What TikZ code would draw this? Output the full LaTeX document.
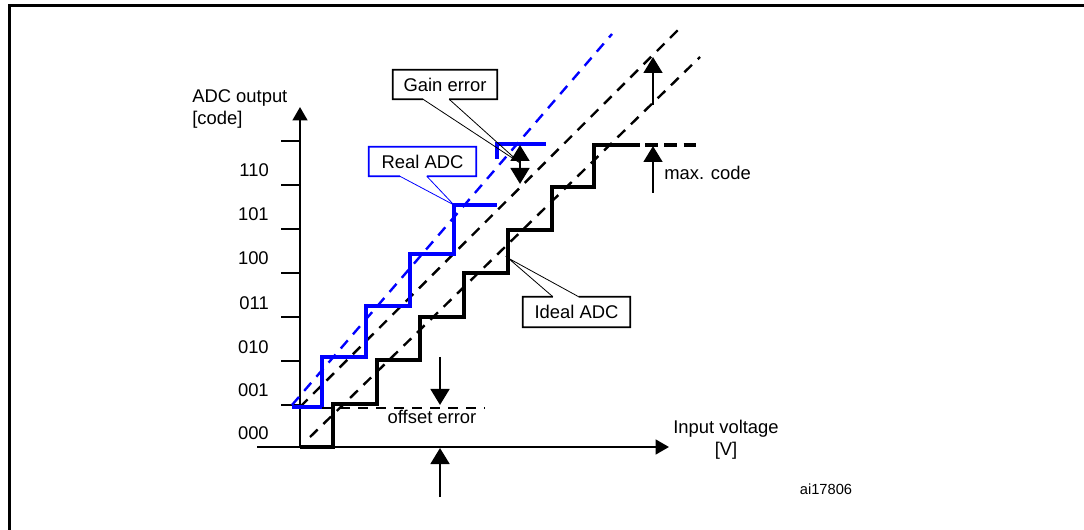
\documentclass[tikz,border=0pt]{standalone}
\usepackage{fontspec}
\setmainfont{Liberation Sans}
\usetikzlibrary{positioning,calc,arrows.meta}

\tikzset{
  stair/.style={line width=2.6pt},
  realstair/.style={stair,blue},
  guide/.style={line width=1.8pt,dash pattern=on 8pt off 6pt},
  ax/.style={line width=1.8pt,-{Triangle[length=10pt,width=11pt]}},
  err/.style={line width=2.1pt,-{Triangle[length=12pt,width=14pt]}},
  lbl/.style={font=\fontsize{13.8}{16.5}\selectfont,inner sep=0pt},
  boxline/.style={line width=1.3pt},
  pointer/.style={line width=0.6pt},
}

\begin{document}
\begin{tikzpicture}[x=0.75pt,y=-0.75pt]
\useasboundingbox (0,0) rectangle (1084,530);
% frame
\draw[line width=2.2pt] (1084,5.5) -- (9.5,5.5) -- (9.5,530);

% axes
\coordinate (o) at (300,447);
\coordinate (xl) at (257,447);
\coordinate (xe) at (669,447);
\coordinate (ye) at (300,107);
\draw[ax] (xl) -- (xe);
\draw[ax] (o) -- (ye);
\foreach \y in {141,185,...,405}
  \draw[line width=1.8pt] (281,\y) -- (300,\y);
\foreach \c/\y in {000/433,001/390,010/347,011/303,100/258,101/214,110/170}
  \node[lbl,anchor=east] (c\c) at (269,\y) {\c};
\node[lbl,align=left,anchor=west] (yl) at (192,109) {ADC output\\{}[code]};
\node[lbl,align=center] (xlab) at (726,440) {Input voltage\\{}[V]};
\node[font=\fontsize{11}{13}\selectfont,inner sep=0pt] (fig) at (826,489) {ai17806};

% transfer lines
\draw[guide,blue] (292,405) -- (612,34);
\draw[guide] (300,407) -- (678,30);
\draw[guide] (310,437) -- (700,57);

% ideal staircase
\draw[stair] (o) -- (333,447) -- (333,404) -- (377,404) -- (377,360) -- (420,360)
  -- (420,317) -- (464,317) -- (464,273) -- (508,273) -- (508,230) -- (552,230)
  -- (552,187) -- (594,187) -- (594,145) -- (640,145);
\draw[stair,dash pattern=on 9.5pt off 5pt] (645,145) -- (697,145);

% real staircase
\draw[realstair] (292,407) -- (322,407) -- (322,357) -- (366,357) -- (366,306)
  -- (410,306) -- (410,254) -- (454,254) -- (454,205) -- (497,205);
\draw[realstair] (497,159) -- (497,144) -- (546,144);

% offset error
\draw[line width=2.1pt,dash pattern=on 7.5pt off 6pt] (322,408) -- (485,408);
\coordinate (oa) at (440,357);
\coordinate (ob) at (440,405);
\coordinate (oc) at (440,497);
\coordinate (od) at (440,448);
\draw[err] (oa) -- (ob);
\draw[err] (oc) -- (od);
\node[lbl,below=4pt of ob,xshift=-6pt] (oe) {offset error};

% gain error
\coordinate (gm) at (520,163);
\draw[err] (gm) -- (520,145);
\draw[err] (gm) -- (520,184);

% max. code
\coordinate (ma) at (653,193);
\coordinate (mb) at (653,146);
\coordinate (mc) at (653,105);
\coordinate (md) at (653,57);
\draw[err] (ma) -- (mb);
\draw[err] (mc) -- (md);
\node[lbl,anchor=west] (mx) at (664,173) {max. code};

% callouts
\node[lbl,minimum width=78pt,minimum height=21.75pt] (g) at (445,84.5) {Gain error};
\coordinate (g1) at ($(g.south west)!0.29!(g.south east)$);
\coordinate (g2) at ($(g.south west)!0.54!(g.south east)$);
\draw[boxline] (g1) -- (g.south west) -- (g.north west) -- (g.north east) -- (g.south east) -- (g2);
\draw[pointer] (g1) -- (gm) -- (g2);

\node[lbl,minimum width=80.25pt,minimum height=21.75pt] (r) at (422.5,161.5) {Real ADC};
\coordinate (rt) at (454,205);
\coordinate (r1) at ($(r.south west)!0.29!(r.south east)$);
\coordinate (r2) at ($(r.south west)!0.54!(r.south east)$);
\draw[boxline,blue] (r1) -- (r.south west) -- (r.north west) -- (r.north east) -- (r.south east) -- (r2);
\draw[pointer,blue] (r1) -- (rt) -- (r2);

\node[lbl,minimum width=80.25pt,minimum height=22.5pt] (i) at (576.5,312) {Ideal ADC};
\coordinate (it) at (508,258);
\coordinate (i1) at ($(i.north west)!0.28!(i.north east)$);
\coordinate (i2) at ($(i.north west)!0.52!(i.north east)$);
\draw[boxline] (i1) -- (i.north west) -- (i.south west) -- (i.south east) -- (i.north east) -- (i2);
\draw[pointer] (i1) -- (it) -- (i2);
\end{tikzpicture}
\end{document}
